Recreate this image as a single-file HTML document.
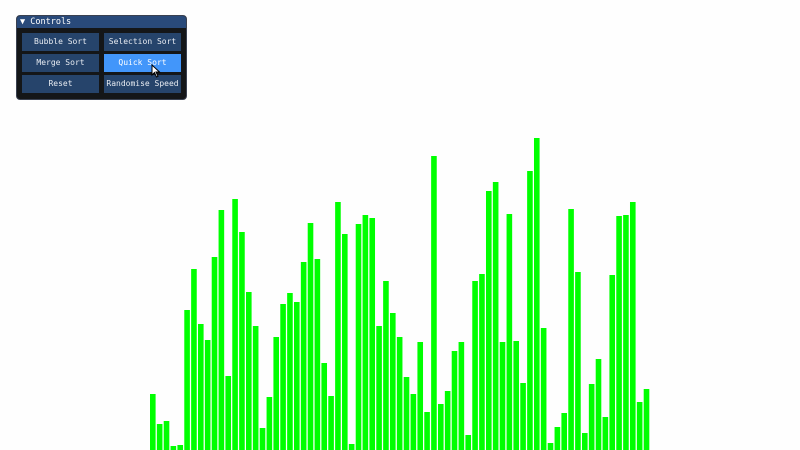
<!DOCTYPE html>
<html><head><meta charset="utf-8"><style>
body{margin:0;width:800px;height:450px;background:#fefefe;overflow:hidden;position:relative;font-family:"DejaVu Sans Mono","Liberation Mono",monospace}
#panel{position:absolute;left:16px;top:15px;width:171px;height:85px;background:#141618;border-radius:4px;border:1px solid #3a4150;box-sizing:border-box;overflow:hidden}
#title{height:12px;background:#294a7a;color:#fff;font-size:8.5px;line-height:12px;padding-left:3px}
.btn{position:absolute;width:77px;height:18px;background:#26446b;color:#e8ecf2;font-size:8px;line-height:18px;text-align:center;white-space:nowrap}
</style></head><body>
<div id="panel">
<div id="title">▼ Controls</div>
<div class="btn" style="left:5px;top:17px">Bubble Sort</div>
<div class="btn" style="left:87px;top:17px">Selection Sort</div>
<div class="btn" style="left:5px;top:38px">Merge Sort</div>
<div class="btn" style="left:87px;top:38px;background:#4296fa;color:#fff">Quick Sort</div>
<div class="btn" style="left:5px;top:59px">Reset</div>
<div class="btn" style="left:87px;top:59px">Randomise Speed</div>
</div>
<svg id="chart" width="800" height="450" style="position:absolute;left:0;top:0;pointer-events:none"></svg>
<svg width="12" height="14" style="position:absolute;left:151px;top:64px"><path d="M1 1 L1 11 L3.5 8.5 L5.5 13 L7 12.3 L5 8 L8.5 8 Z" fill="#fff" stroke="#000" stroke-width="1"/></svg>
<script>
const values=[56,26,29,4,5,140,181,126,110,193,240,74,251,218,158,124,22,53,113,146,157,148,188,227,191,87,54,248,216,6,226,235,232,124,169,137,113,73,56,108,38,294,46,59,99,108,15,169,176,259,268,108,236,109,67,279,312,122,7,23,37,241,178,17,66,91,33,175,234,235,248,48,61];
const svg=document.getElementById('chart');
const x0=150,pitch=6.857,bw=5.6,base=450;
function xPos(i){return x0+i*pitch;}
function yPos(v){return base-v;}
values.forEach((v,i)=>{
 const r=document.createElementNS('http://www.w3.org/2000/svg','rect');
 r.setAttribute('x',xPos(i));r.setAttribute('y',yPos(v));
 r.setAttribute('width',bw);r.setAttribute('height',base-yPos(v));
 r.setAttribute('fill','#00ff00');
 
 
 svg.appendChild(r);
});
</script>
</body></html>
